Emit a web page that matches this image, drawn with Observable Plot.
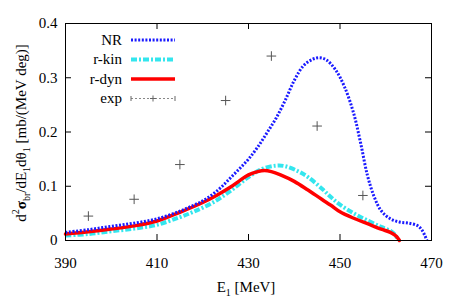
<!DOCTYPE html>
<html>
<head>
<meta charset="utf-8">
<script src="https://cdn.jsdelivr.net/npm/d3@7"></script>
<script src="https://cdn.jsdelivr.net/npm/@observablehq/plot@0.6"></script>
<style>
  html, body { margin: 0; padding: 0; background: #fff; }
  #chart { width: 458px; height: 300px; }
  #chart svg, #chart svg text, #chart svg tspan { font-family: "Liberation Serif", "Liberation Sans", Arial, sans-serif !important; }
</style>
</head>
<body>
<div id="chart"></div>
<script>
// ---- data ----
const nrE = [390, 395, 400, 405, 410, 415, 418, 420, 422, 424, 426, 428, 430, 432, 434, 436, 438, 440, 442, 444, 445.5, 447, 449, 451, 453, 454.5, 456, 457.5, 459, 461, 463, 465, 467, 468, 468.6, 469];
const nrV = [0.015, 0.020, 0.026, 0.032, 0.040, 0.054, 0.065, 0.073, 0.084, 0.098, 0.115, 0.132, 0.150, 0.172, 0.198, 0.225, 0.258, 0.295, 0.322, 0.334, 0.337, 0.333, 0.315, 0.283, 0.234, 0.180, 0.120, 0.080, 0.055, 0.040, 0.034, 0.032, 0.027, 0.018, 0.008, 0.0];

const kinE = [390, 395, 400, 405, 410, 415, 418, 422, 426, 430, 433, 436, 438, 441, 443, 446, 448, 450, 453, 456, 459, 461, 462, 462.5];
const kinV = [0.009, 0.012, 0.017, 0.022, 0.029, 0.043, 0.053, 0.069, 0.091, 0.117, 0.132, 0.138, 0.137, 0.127, 0.117, 0.096, 0.080, 0.066, 0.050, 0.037, 0.025, 0.018, 0.011, 0.004];

const dynE = [390, 395, 400, 405, 410, 415, 420, 423, 426, 428, 430, 432, 433.5, 435, 437, 440, 443, 446, 448, 450, 453, 456, 459, 461, 462, 462.6, 463];
const dynV = [0.012, 0.016, 0.021, 0.027, 0.036, 0.052, 0.070, 0.083, 0.098, 0.110, 0.121, 0.127, 0.129, 0.127, 0.121, 0.109, 0.093, 0.076, 0.065, 0.053, 0.041, 0.031, 0.021, 0.015, 0.010, 0.005, 0.0];

const expE = [395, 405, 415, 425, 435, 445, 455];
const expV = [0.045, 0.076, 0.14, 0.258, 0.340, 0.211, 0.083];

const xTicks = [390, 410, 430, 450, 470];
const yTicks = [0, 0.1, 0.2, 0.3, 0.4];
const yTickLabels = ["0", "0.1", "0.2", "0.3", "0.4"];

const seriesNames = ["NR", "r-kin", "r-dyn", "exp"];

// ---- tables ----
const nr = nrE.map((e, i) => ({e, v: nrV[i]}));
const kin = kinE.map((e, i) => ({e, v: kinV[i]}));
const dyn = dynE.map((e, i) => ({e, v: dynV[i]}));
const exp = expE.map((e, i) => ({e, v: expV[i]}));

const xDom = [390, 470], yDom = [0, 0.4];
const tickLenY = (yDom[1] - yDom[0]) * 6 / 217;  // ~6px inward
const tickLenX = (xDom[1] - xDom[0]) * 6 / 366;
const FONT = "'Liberation Serif', 'Liberation Sans', Arial, sans-serif";

const plot = Plot.plot({
  width: 458,
  height: 300,
  marginLeft: 65,
  marginRight: 27,
  marginTop: 23,
  marginBottom: 60,
  style: {fontFamily: FONT, fontSize: "15px", color: "#000", background: "#fff"},
  x: {domain: xDom},
  y: {domain: yDom},
  marks: [
    Plot.axisX({ticks: xTicks, tickSize: 0, tickPadding: 17, fontSize: 15, tickFormat: d => String(d), label: null}),
    Plot.axisY({ticks: yTicks, tickSize: 0, tickPadding: 8, fontSize: 15, tickFormat: (d, i) => yTickLabels[i], label: null}),
    // inward ticks, mirrored on all sides
    Plot.ruleX(xTicks.slice(1, -1), {x: d => d, y1: yDom[0], y2: yDom[0] + tickLenY, stroke: "#000"}),
    Plot.ruleX(xTicks.slice(1, -1), {x: d => d, y1: yDom[1], y2: yDom[1] - tickLenY, stroke: "#000"}),
    Plot.ruleY(yTicks.slice(1, -1), {y: d => d, x1: xDom[0], x2: xDom[0] + tickLenX, stroke: "#000"}),
    Plot.ruleY(yTicks.slice(1, -1), {y: d => d, x1: xDom[1], x2: xDom[1] - tickLenX, stroke: "#000"}),
    Plot.line(kin, {x: "e", y: "v", stroke: "#33e6ee", strokeWidth: 4, strokeDasharray: "6,2,2,2", strokeLinecap: "butt", curve: "catmull-rom"}),
    Plot.line(dyn, {x: "e", y: "v", stroke: "#ff0000", strokeWidth: 3.5, curve: "catmull-rom"}),
    Plot.line(nr, {x: "e", y: "v", stroke: "#1a1aff", strokeWidth: 3, strokeDasharray: "2,1.6", strokeLinecap: "butt", curve: "catmull-rom"}),
    Plot.dot(exp, {x: "e", y: "v", symbol: "plus", r: 3.2, stroke: "#555", strokeWidth: 1}),
    Plot.frame({stroke: "#000", strokeWidth: 1})
  ]
});

document.getElementById("chart").appendChild(plot);

// ---- legend and axis titles ----
const svg = d3.select(plot);
const leg = svg.append("g").attr("font-size", 15).style("font-family", FONT);
const legStyles = [
  {stroke: "#1a1aff", w: 3, dash: "2,1.6"},
  {stroke: "#33e6ee", w: 4, dash: "6,2,2,2"},
  {stroke: "#ff0000", w: 3.5, dash: null},
  {stroke: "#888", w: 1, dash: "2,2"}
];
seriesNames.forEach((name, i) => {
  const y = 40 + i * 19.5;
  leg.append("text").attr("x", 122).attr("y", y).attr("dy", "0.33em").attr("text-anchor", "end").text(name);
  const s = legStyles[i];
  leg.append("line").attr("x1", 131).attr("x2", 175).attr("y1", y).attr("y2", y)
    .attr("stroke", s.stroke).attr("stroke-width", s.w).attr("stroke-dasharray", s.dash);
  if (name === "exp") {
    leg.append("path").attr("d", `M131,${y-2.5}V${y+2.5}M175,${y-2.5}V${y+2.5}M150,${y}H156M153,${y-3}V${y+3}`)
      .attr("stroke", "#666").attr("stroke-width", 1).attr("fill", "none");
  }
});

// x-axis title
const xt = svg.append("text").attr("x", 246).attr("y", 292).attr("text-anchor", "middle")
  .attr("font-size", 15).style("font-family", FONT);
xt.append("tspan").text("E");
xt.append("tspan").attr("font-size", 10).attr("dy", 4).text("1");
xt.append("tspan").attr("dy", -4).text(" [MeV]");

// y-axis title
const yt = svg.append("text").attr("transform", "translate(26,133) rotate(-90)").attr("text-anchor", "middle")
  .attr("font-size", 15).style("font-family", FONT);
yt.append("tspan").text("d");
yt.append("tspan").attr("font-size", 10).attr("dy", -7).text("2");
yt.append("tspan").attr("dy", 7).attr("font-weight", "bold").text("σ");
yt.append("tspan").attr("font-size", 10).attr("dy", 4).text("br");
yt.append("tspan").attr("dy", -4).text("/dE");
yt.append("tspan").attr("font-size", 10).attr("dy", 4).text("1");
yt.append("tspan").attr("dy", -4).text("dθ");
yt.append("tspan").attr("font-size", 10).attr("dy", 4).text("1");
yt.append("tspan").attr("dy", -4).text(" [mb/(MeV deg)]");
</script>
</body>
</html>
